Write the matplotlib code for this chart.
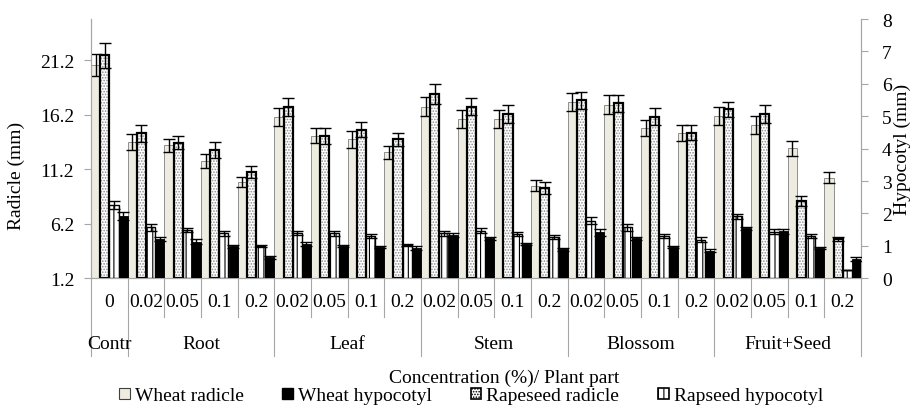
import numpy as np
import matplotlib
matplotlib.use('Agg')
import matplotlib.pyplot as plt
from matplotlib.patches import Patch

plt.rcParams['font.family'] = ['Liberation Serif', 'DejaVu Serif']
plt.rcParams['hatch.linewidth'] = 0.8

# Data
concs = ['0', '0.02', '0.05', '0.1', '0.2', '0.02', '0.05', '0.1', '0.2',
         '0.02', '0.05', '0.1', '0.2', '0.02', '0.05', '0.1', '0.2',
         '0.02', '0.05', '0.1', '0.2']
parts = ['Contr', 'Root', 'Leaf', 'Stem', 'Blossom', 'Fruit+Seed']
part_sizes = [1, 4, 4, 4, 4, 4]

# radicle (left axis, mm)
wheat_rad = [20.8, 13.7, 13.4, 12.0, 10.05, 16.0, 14.3, 13.95, 12.75, 16.95, 15.85,
             15.85, 9.7, 17.35, 17.15, 15.0, 14.5, 16.1, 15.25, 13.15, 10.45]
wheat_rad_err = [1.0, 0.72, 0.6, 0.64, 0.49, 0.84, 0.72, 0.76, 0.63, 0.89, 0.81,
                 0.81, 0.5, 0.84, 0.84, 0.76, 0.73, 0.84, 0.81, 0.69, 0.52]
rape_rad = [21.65, 14.5, 13.65, 13.0, 10.95, 16.9, 14.25, 14.85, 13.95, 18.1, 16.95,
            16.25, 9.45, 17.55, 17.25, 16.05, 14.55, 16.7, 16.25, 8.3, 4.8]
rape_rad_err = [1.13, 0.76, 0.6, 0.73, 0.55, 0.82, 0.76, 0.7, 0.61, 0.92, 0.79,
                0.82, 0.55, 0.77, 0.76, 0.79, 0.7, 0.67, 0.82, 0.46, 0.15]

# hypocotyl (right axis, mm)
rape_hyp = [2.27, 1.57, 1.49, 1.39, 1.0, 1.39, 1.39, 1.30, 1.03, 1.39, 1.47,
            1.37, 1.28, 1.78, 1.57, 1.30, 1.19, 1.91, 1.44, 1.30, 0.27]
rape_hyp_err = [0.12, 0.1, 0.05, 0.08, 0.03, 0.06, 0.08, 0.07, 0.04, 0.08, 0.08,
                0.06, 0.07, 0.1, 0.1, 0.07, 0.07, 0.07, 0.08, 0.07, 0.0]
wheat_hyp = [1.93, 1.21, 1.13, 0.99, 0.65, 1.06, 1.0, 0.96, 0.93, 1.34, 1.23,
             1.06, 0.9, 1.42, 1.23, 0.96, 0.85, 1.54, 1.45, 0.93, 0.6]
wheat_hyp_err = [0.12, 0.06, 0.08, 0.04, 0.05, 0.05, 0.04, 0.04, 0.06, 0.07, 0.05,
                 0.04, 0.05, 0.1, 0.05, 0.04, 0.05, 0.05, 0.08, 0.04, 0.07]

left_ticks = [1.2, 6.2, 11.2, 16.2, 21.2]
right_ticks = [0, 1, 2, 3, 4, 5, 6, 7, 8]
ymin, ymax = 1.2, 25.0

beige = '#EEECE1'
axis_grey = '#A6A6A6'
dots = '#8C8C8C'
fs = 14

fig = plt.figure(figsize=(9.14, 4.10), dpi=100)
ax = fig.add_axes([91 / 914, 1 - 279.3 / 410, 770 / 914, 259.3 / 410])
ax2 = ax.twinx()

x = np.arange(len(concs))
w = 0.25
ebar = dict(fmt='none', ecolor='black', elinewidth=1, capsize=4, capthick=1)

# wheat radicle
ax.bar(x - 1.5 * w, np.array(wheat_rad) - ymin, w, bottom=ymin, color=beige,
       edgecolor='#7F7F7F', linewidth=0.6, zorder=2)
ax.errorbar(x - 1.5 * w, wheat_rad, yerr=wheat_rad_err, zorder=3, **ebar)
# rapeseed radicle (dotted)
ax.bar(x - 0.5 * w, np.array(rape_rad) - ymin, w, bottom=ymin, color='white',
       edgecolor=dots, hatch='......', linewidth=0, zorder=4)
ax.bar(x - 0.5 * w, np.array(rape_rad) - ymin, w, bottom=ymin, fill=False,
       edgecolor='black', linewidth=1.6, zorder=5)
ax.errorbar(x - 0.5 * w, rape_rad, yerr=rape_rad_err, zorder=6, **ebar)

# rapeseed hypocotyl (stripes)
ax2.bar(x + 0.5 * w, rape_hyp, w, color='white', edgecolor='black',
        hatch='|||', linewidth=1.0, zorder=2)
ax2.errorbar(x + 0.5 * w, rape_hyp, yerr=rape_hyp_err, zorder=3, **ebar)
# wheat hypocotyl (black)
ax2.bar(x + 1.5 * w, wheat_hyp, w, color='black', edgecolor='black',
        linewidth=0.6, zorder=4)
ax2.errorbar(x + 1.5 * w, wheat_hyp, yerr=wheat_hyp_err, zorder=5, **ebar)

ax.set_xlim(-0.5, len(concs) - 0.5)
ax.set_ylim(ymin, ymax)
ax2.set_ylim(0, 8)
ax.set_yticks(left_ticks)
ax.set_yticklabels([f'{t:.1f}' for t in left_ticks], fontsize=fs)
ax2.set_yticks(right_ticks)
ax2.set_yticklabels([str(t) for t in right_ticks], fontsize=fs)
ax.set_xticks([])
ax2.set_xticks([])

for a in (ax, ax2):
    a.spines['top'].set_visible(False)
    for s in ('left', 'right', 'bottom'):
        a.spines[s].set_color(axis_grey)
        a.spines[s].set_linewidth(0.8)
ax.tick_params(axis='y', length=5, color=axis_grey, width=0.8, pad=7)
ax2.tick_params(axis='y', length=5, color=axis_grey, width=0.8, pad=10)

ax.set_ylabel('Radicle (mm)', fontsize=fs)
ax.yaxis.set_label_coords(-0.086, 0.398)
ax2.set_ylabel('Hypocotyl (mm)', fontsize=fs)
ax2.yaxis.set_label_coords(1.043, 0.5)

# two-level category axis
trans = ax.get_xaxis_transform()
short_y = -0.149
long_y = -0.30
for i, c in enumerate(concs):
    ax.text(i, -0.091, c, transform=trans, ha='center', va='center', fontsize=fs)
bounds = np.cumsum([0] + part_sizes) - 0.5
for i in range(1, len(concs)):
    yb = long_y if (i - 0.5) in bounds else short_y
    ax.plot([i - 0.5, i - 0.5], [0, yb], transform=trans, color=axis_grey,
            lw=0.8, clip_on=False)
for b in (bounds[0], bounds[-1]):
    ax.plot([b, b], [0, long_y], transform=trans, color=axis_grey, lw=0.8, clip_on=False)
for k, p in enumerate(parts):
    ax.text((bounds[k] + bounds[k + 1]) / 2, -0.25, p, transform=trans,
            ha='center', va='center', fontsize=fs)

fig.text(504 / 914, 1 - 378 / 410, 'Concentration (%)/ Plant part',
         ha='center', va='center', fontsize=fs)

handles = [
    Patch(facecolor=beige, edgecolor='#404040', linewidth=0.8, label='Wheat radicle'),
    Patch(facecolor='black', edgecolor='black', label='Wheat hypocotyl'),
    Patch(facecolor='white', edgecolor='black', hatch='......', linewidth=1.2, label='Rapeseed radicle'),
    Patch(facecolor='white', edgecolor='black', hatch='|||', linewidth=1.2, label='Rapseed hypocotyl'),
]
fig.legend(handles=handles, loc='center', bbox_to_anchor=(471 / 914, 1 - 397 / 410),
           ncol=4, frameon=False, fontsize=fs, handlelength=0.55, handleheight=0.55,
           handletextpad=0.25, columnspacing=2.0, borderaxespad=0, borderpad=0)

fig.savefig('out.png', dpi=100)
